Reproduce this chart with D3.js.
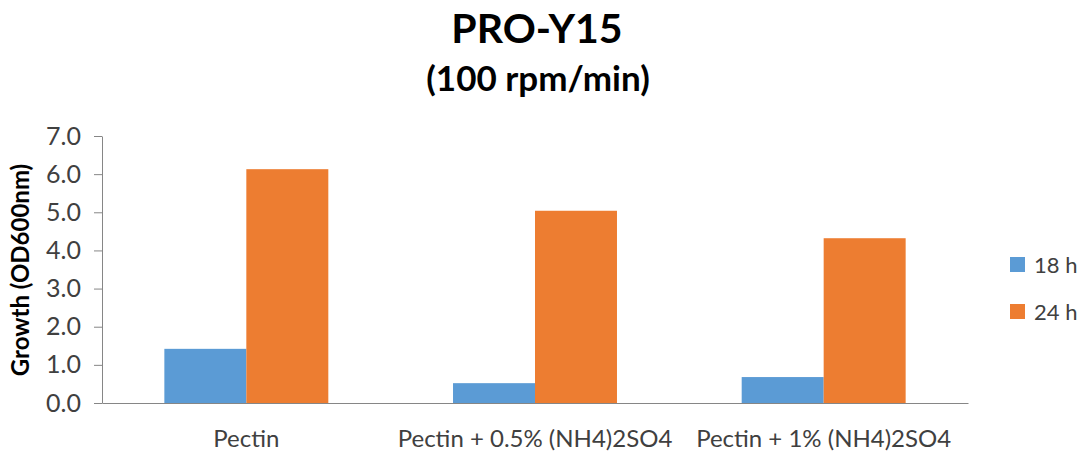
<!DOCTYPE html>
<html>
<head>
<meta charset="utf-8">
<script src="https://cdn.jsdelivr.net/npm/d3@7"></script>
<style>
  body { margin: 0; background: #fff; }
  svg text { font-family: Lato, "Open Sans", sans-serif; }
</style>
</head>
<body>
<script>
// chart data
const categories = ['Pectin', 'Pectin + 0.5% (NH4)2SO4', 'Pectin + 1% (NH4)2SO4']
const seriesNames = ['18 h', '24 h']
const growth18h = [1.42, 0.52, 0.68]
const growth24h = [6.13, 5.04, 4.32]
const yTicks = [0, 1, 2, 3, 4, 5, 6, 7]
const colors = ['#5b9bd5', '#ed7d31']

const width = 1090
const height = 455
const margin = {top: 136, right: 122, bottom: 52, left: 102}
const innerW = width - margin.left - margin.right
const innerH = height - margin.top - margin.bottom

const svg = d3.select('body').append('svg')
  .attr('width', width)
  .attr('height', height)

// titles
svg.append('text')
  .attr('x', 537).attr('y', 43)
  .attr('text-anchor', 'middle')
  .attr('font-size', 41).attr('font-weight', 'bold')
  .attr('fill', '#000')
  .text('PRO-Y15')
svg.append('text')
  .attr('x', 538).attr('y', 91)
  .attr('text-anchor', 'middle')
  .attr('font-size', 35).attr('font-weight', 'bold')
  .attr('fill', '#000')
  .text('(100 rpm/min)')

const g = svg.append('g')
  .attr('transform', 'translate(' + margin.left + ',' + margin.top + ')')

// scales
const x0 = d3.scaleBand()
  .domain(categories)
  .range([0, innerW])
  .paddingInner(0.432)
  .paddingOuter(0.216)
const x1 = d3.scaleBand()
  .domain(seriesNames)
  .range([0, x0.bandwidth()])
const y = d3.scaleLinear().domain([0, 7]).range([innerH, 0])

const rows = categories.map(function(c, i) {
  return {cat: c, values: [growth18h[i], growth24h[i]]}
})

// bars
const groups = g.selectAll('.grp')
  .data(rows)
  .enter().append('g')
  .attr('class', 'grp')
  .attr('transform', function(d) { return 'translate(' + x0(d.cat) + ',0)' })
groups.selectAll('rect')
  .data(function(d) { return d.values.map(function(v, i) { return {name: seriesNames[i], value: v, i: i} }) })
  .enter().append('rect')
  .attr('x', function(d) { return x1(d.name) })
  .attr('width', x1.bandwidth())
  .attr('y', function(d) { return y(d.value) })
  .attr('height', function(d) { return innerH - y(d.value) })
  .attr('fill', function(d) { return colors[d.i] })

// y axis
const yAxis = g.append('g')
  .call(d3.axisLeft(y).tickValues(yTicks).tickFormat(d3.format('.1f')).tickSizeInner(8).tickSizeOuter(0).tickPadding(13))
yAxis.attr('font-family', null)
yAxis.select('.domain').attr('stroke', '#868686')
yAxis.selectAll('.tick line').attr('stroke', '#868686')
yAxis.selectAll('.tick text').attr('font-size', 25).attr('fill', '#404040')

// x axis
const xAxis = g.append('g')
  .attr('transform', 'translate(0,' + innerH + ')')
  .call(d3.axisBottom(x0).tickSize(0).tickPadding(27))
xAxis.attr('font-family', null)
xAxis.select('.domain').attr('stroke', '#868686')
xAxis.selectAll('.tick text').attr('font-size', 24).attr('fill', '#404040')

// y label
svg.append('text')
  .attr('transform', 'translate(29,' + 270 + ') rotate(-90)')
  .attr('text-anchor', 'middle')
  .attr('font-size', 24).attr('font-weight', 'bold')
  .attr('fill', '#000')
  .text('Growth (OD600nm)')

// legend
const legend = svg.append('g').attr('transform', 'translate(1010,257)')
seriesNames.forEach(function(name, i) {
  const row = legend.append('g').attr('transform', 'translate(0,' + (i * 47) + ')')
  row.append('rect').attr('width', 15).attr('height', 15).attr('fill', colors[i])
  row.append('text').attr('x', 24).attr('y', 16)
    .attr('font-size', 22).attr('fill', '#404040')
    .text(name)
})
</script>
</body>
</html>
